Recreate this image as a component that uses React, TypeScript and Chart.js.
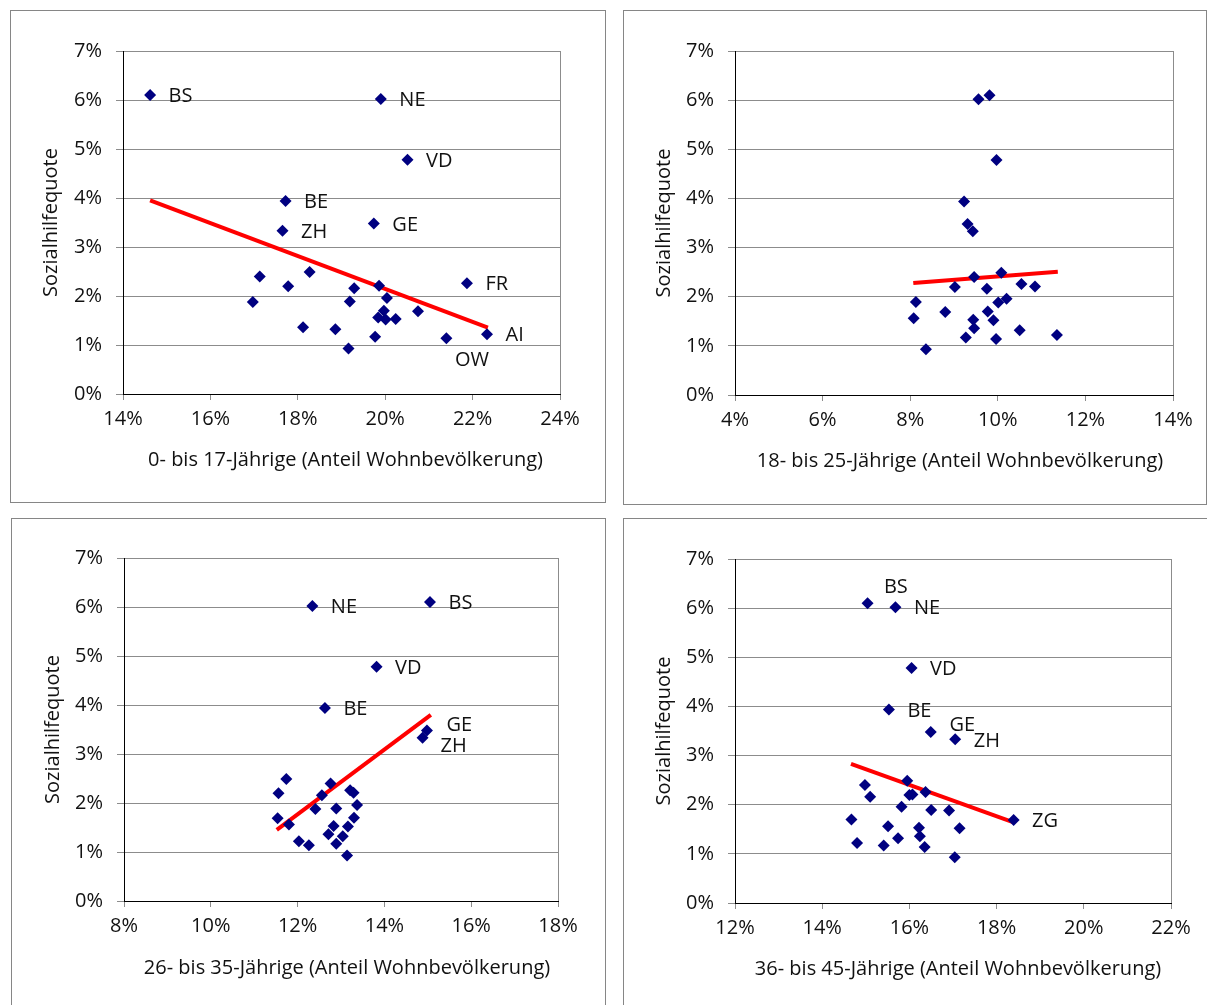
import React, { useEffect, useRef } from 'react';
import { Chart, registerables } from 'chart.js';

Chart.register(...registerables);

// ---------- data ----------
const CANTON = ['BS', 'NE', 'VD', 'BE', 'GE', 'ZH', '', '', 'FR', '', '', '', '', '', '', '', 'ZG', '', '', '', '', '', 'AI', '', 'OW', ''];
const QUOTE = [6.1, 6.02, 4.78, 3.94, 3.48, 3.33, 2.49, 2.4, 2.26, 2.21, 2.2, 2.16, 1.96, 1.89, 1.88, 1.7, 1.69, 1.56, 1.53, 1.52, 1.36, 1.32, 1.22, 1.17, 1.14, 0.93];

const SHARE_0_17 = [14.62, 19.9, 20.51, 17.72, 19.74, 17.65, 18.27, 17.13, 21.87, 19.86, 17.78, 19.29, 20.04, 19.19, 16.97, 19.97, 20.75, 19.84, 20.24, 20.01, 18.12, 18.86, 22.33, 19.77, 21.4, 19.16];
const SHARE_18_25 = [9.81, 9.56, 9.97, 9.23, 9.31, 9.43, 10.08, 9.46, 10.54, 10.85, 9.02, 9.75, 10.2, 8.13, 10.01, 9.77, 8.8, 8.08, 9.44, 9.9, 9.46, 10.5, 11.35, 9.27, 9.96, 8.36];
const SHARE_26_35 = [15.05, 12.34, 13.82, 12.63, 14.98, 14.88, 11.74, 12.76, 13.21, 13.29, 11.56, 12.56, 13.37, 12.89, 12.41, 13.3, 11.54, 11.8, 12.83, 13.16, 12.71, 13.04, 12.03, 12.89, 12.26, 13.14];
const SHARE_36_45 = [15.04, 15.68, 16.05, 15.53, 16.49, 17.05, 15.95, 14.98, 16.37, 16.07, 16.0, 15.1, 15.82, 16.5, 16.91, 14.67, 18.39, 15.51, 16.22, 17.15, 16.24, 15.74, 14.8, 15.41, 16.35, 17.04];

const TREND_0_17 = [[14.62, 3.95], [22.35, 1.355]];
const TREND_18_25 = [[8.07, 2.28], [11.37, 2.51]];
const TREND_26_35 = [[11.52, 1.45], [15.07, 3.8]];
const TREND_36_45 = [[14.66, 2.83], [18.39, 1.64]];

const X_TICKS_0_17 = [14, 16, 18, 20, 22, 24];
const X_TICKS_18_25 = [4, 6, 8, 10, 12, 14];
const X_TICKS_26_35 = [8, 10, 12, 14, 16, 18];
const X_TICKS_36_45 = [12, 14, 16, 18, 20, 22];
const Y_TICKS = [0, 1, 2, 3, 4, 5, 6, 7];

const X_TITLES = [
  '0- bis 17-Jährige (Anteil Wohnbevölkerung)',
  '18- bis 25-Jährige (Anteil Wohnbevölkerung)',
  '26- bis 35-Jährige (Anteil Wohnbevölkerung)',
  '36- bis 45-Jährige (Anteil Wohnbevölkerung)',
];
const Y_TITLE = 'Sozialhilfequote';

const LABELED_0_17 = ['BS', 'NE', 'VD', 'BE', 'ZH', 'GE', 'FR', 'AI', 'OW'];
const LABELED_18_25: string[] = [];
const LABELED_26_35 = ['NE', 'BS', 'VD', 'BE', 'GE', 'ZH'];
const LABELED_36_45 = ['BS', 'NE', 'VD', 'BE', 'GE', 'ZH', 'ZG'];

// ---------- style / layout ----------
const FONT = "'Open Sans', 'Noto Sans', sans-serif";
const FS = 20;
const NAVY = '#000080';
const RED = '#ff0000';
const GRID = '#8c8c8c';
const TEXT = '#111111';
const DEFAULT_OFF = [18.5, 1.5];
const LABEL_OFFSETS: Record<string, number[]>[] = [
  { OW: [8.6, 22.6] },
  {},
  { GE: [19.5, -4.7], ZH: [18, 8.4] },
  { BS: [16.4, -15.7], GE: [18.7, -7] },
];

type Panel = {
  xs: number[]; trend: number[][]; xticks: number[]; title: string; labeled: string[]; offsets: Record<string, number[]>;
  border: { l: number; t: number; w: number; h: number };
  canvas: { l: number; t: number; w: number; h: number };
  yW: number; xH: number; padTop: number; padRight: number; xTitleFromBottom: number; xTitleShift: number; yTitleX: number;
};

const PANELS: Panel[] = [
  {
    xs: SHARE_0_17, trend: TREND_0_17, xticks: X_TICKS_0_17, title: X_TITLES[0], labeled: LABELED_0_17, offsets: LABEL_OFFSETS[0],
    border: { l: 10, t: 10, w: 596, h: 493 }, canvas: { l: 11, t: 11, w: 594, h: 491 },
    yW: 112, xH: 108, padTop: 40, padRight: 45, xTitleFromBottom: 42, xTitleShift: 4, yTitleX: 40,
  },
  {
    xs: SHARE_18_25, trend: TREND_18_25, xticks: X_TICKS_18_25, title: X_TITLES[1], labeled: LABELED_18_25, offsets: LABEL_OFFSETS[1],
    border: { l: 623, t: 10, w: 584, h: 495 }, canvas: { l: 624, t: 11, w: 582, h: 493 },
    yW: 111, xH: 109, padTop: 40, padRight: 33, xTitleFromBottom: 43, xTitleShift: 6, yTitleX: 40.6,
  },
  {
    xs: SHARE_26_35, trend: TREND_26_35, xticks: X_TICKS_26_35, title: X_TITLES[2], labeled: LABELED_26_35, offsets: LABEL_OFFSETS[2],
    border: { l: 11, t: 518, w: 595, h: 495 }, canvas: { l: 12, t: 519, w: 593, h: 486 },
    yW: 112, xH: 104, padTop: 39, padRight: 47, xTitleFromBottom: 37, xTitleShift: 6, yTitleX: 41.5,
  },
  {
    xs: SHARE_36_45, trend: TREND_36_45, xticks: X_TICKS_36_45, title: X_TITLES[3], labeled: LABELED_36_45, offsets: LABEL_OFFSETS[3],
    border: { l: 623, t: 518, w: 595, h: 495 }, canvas: { l: 624, t: 519, w: 583, h: 486 },
    yW: 111, xH: 102, padTop: 40, padRight: 36, xTitleFromBottom: 36, xTitleShift: 5, yTitleX: 40.3,
  },
];

const LH = 1.2;

function buildConfig(p: Panel): any {
  const framePlugin = {
    id: 'frame',
    beforeDatasetsDraw(chart: any) {
      const { ctx, chartArea } = chart;
      ctx.save();
      ctx.strokeStyle = GRID;
      ctx.lineWidth = 1;
      ctx.beginPath();
      const x = Math.round(chartArea.right) + 0.5;
      ctx.moveTo(x, chartArea.top);
      ctx.lineTo(x, chartArea.bottom);
      ctx.stroke();
      ctx.restore();
    },
  };
  const labelPlugin = {
    id: 'pointLabels',
    afterDatasetsDraw(chart: any) {
      const meta = chart.getDatasetMeta(0);
      const { ctx } = chart;
      ctx.save();
      ctx.font = `${FS}px ${FONT}`;
      ctx.fillStyle = TEXT;
      ctx.textAlign = 'left';
      ctx.textBaseline = 'middle';
      p.labeled.forEach((name) => {
        const i = CANTON.indexOf(name);
        const el = meta.data[i];
        if (!el) return;
        const off = p.offsets[name] || DEFAULT_OFF;
        ctx.fillText(name, el.x + off[0], el.y + off[1]);
      });
      ctx.restore();
    },
  };
  const xTitlePlugin = {
    id: 'xTitle',
    afterDraw(chart: any) {
      const { ctx, chartArea, height } = chart;
      ctx.save();
      ctx.font = `${FS}px ${FONT}`;
      ctx.fillStyle = TEXT;
      ctx.textAlign = 'center';
      ctx.textBaseline = 'middle';
      ctx.fillText(p.title, (chartArea.left + chartArea.right) / 2 + p.xTitleShift, height - p.xTitleFromBottom);
      ctx.restore();
    },
  };
  const tickFont = { family: FONT, size: FS, lineHeight: LH };
  return {
    type: 'scatter',
    data: {
      datasets: [
        {
          data: p.xs.map((x, i) => ({ x, y: QUOTE[i] })),
          pointStyle: 'rectRot',
          pointRadius: 6,
          pointHoverRadius: 6,
          backgroundColor: NAVY,
          borderColor: NAVY,
          borderWidth: 0,
          order: 1,
        },
        {
          data: p.trend.map(([x, y]) => ({ x, y })),
          showLine: true,
          borderColor: RED,
          borderWidth: 4,
          pointRadius: 0,
          pointHoverRadius: 0,
          fill: false,
          order: 2,
        },
      ],
    },
    options: {
      animation: false,
      responsive: false,
      events: [],
      layout: { padding: { top: p.padTop, right: p.padRight, left: 0, bottom: 0 } },
      plugins: { legend: { display: false }, tooltip: { enabled: false } },
      scales: {
        x: {
          type: 'linear',
          position: 'bottom',
          min: p.xticks[0],
          max: p.xticks[p.xticks.length - 1],
          afterBuildTicks: (s: any) => { s.ticks = p.xticks.map((v) => ({ value: v })); },
          afterFit: (s: any) => { s.height = p.xH; },
          ticks: { font: tickFont, color: TEXT, padding: 7, maxRotation: 0, autoSkip: false, callback: (v: any) => `${v}%` },
          grid: { drawOnChartArea: false, drawTicks: true, tickLength: 6, color: GRID, tickColor: GRID },
          border: { display: true, color: '#000', width: 1 },
          title: { display: false, text: p.title },
        },
        y: {
          type: 'linear',
          position: 'left',
          min: Y_TICKS[0],
          max: Y_TICKS[Y_TICKS.length - 1],
          afterBuildTicks: (s: any) => { s.ticks = Y_TICKS.map((v) => ({ value: v })); },
          afterFit: (s: any) => { s.width = p.yW; },
          ticks: { font: tickFont, color: TEXT, padding: 14, callback: (v: any) => `${v}%` },
          grid: { drawOnChartArea: true, drawTicks: true, tickLength: 7, color: GRID, tickColor: GRID },
          border: { display: true, color: '#000', width: 1 },
          title: {
            display: true, text: Y_TITLE, color: TEXT, font: tickFont,
            padding: { top: p.yTitleX - (FS * LH) / 2, bottom: 0 },
          },
        },
      },
    },
    plugins: [framePlugin, labelPlugin, xTitlePlugin],
  };
}

function PanelChart({ p }: { p: Panel }) {
  const ref = useRef<HTMLCanvasElement | null>(null);
  useEffect(() => {
    if (!ref.current) return;
    const chart = new Chart(ref.current, buildConfig(p));
    return () => chart.destroy();
  }, [p]);
  return (
    <>
      <div
        style={{
          position: 'absolute', left: p.border.l, top: p.border.t, width: p.border.w, height: p.border.h,
          border: '1px solid #868686', boxSizing: 'border-box', background: '#fff',
        }}
      />
      <canvas
        ref={ref}
        width={p.canvas.w}
        height={p.canvas.h}
        style={{ position: 'absolute', left: p.canvas.l, top: p.canvas.t, width: p.canvas.w, height: p.canvas.h }}
      />
    </>
  );
}

export default function App() {
  return (
    <div style={{ position: 'absolute', left: 0, top: 0, width: 1207, height: 1005, overflow: 'hidden', background: '#fff' }}>
      {PANELS.map((p, i) => (
        <PanelChart key={i} p={p} />
      ))}
    </div>
  );
}
